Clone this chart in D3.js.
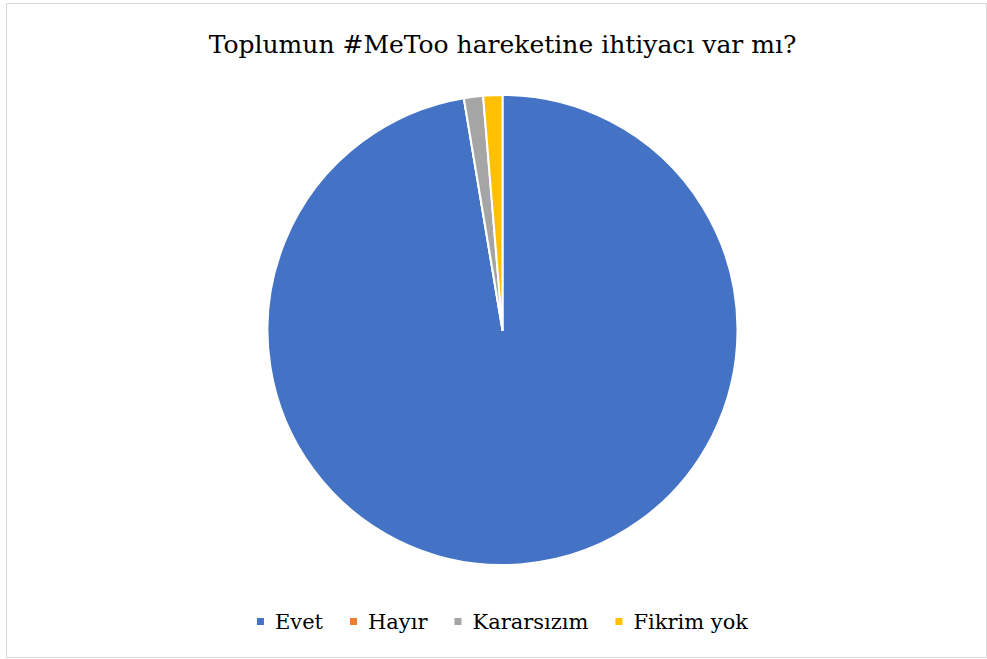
<!DOCTYPE html>
<html>
<head>
<meta charset="utf-8">
<script src="https://cdn.jsdelivr.net/npm/d3@7"></script>
<style>
  body { margin: 0; padding: 0; background: #fff; }
</style>
</head>
<body>
<svg id="chart" width="987" height="659"></svg>
<script>
const title = 'Toplumun #MeToo hareketine ihtiyacı var mı?'
const categories = ['Evet', 'Hayır', 'Kararsızım', 'Fikrim yok']
const values = [74, 0, 1, 1]
const colors = ['#4472C4', '#ED7D31', '#A5A5A5', '#FFC000']

const font = "'DejaVu Serif', serif"
const cx = 502.5
const cy = 330
const radius = 235

const svg = d3.select('#chart')

svg.append('rect')
  .attr('x', 6.5).attr('y', 3.5)
  .attr('width', 980).attr('height', 654)
  .attr('fill', '#fff')
  .attr('stroke', '#d9d9d9')
  .attr('stroke-width', 1)

svg.append('text')
  .attr('x', cx)
  .attr('y', 53)
  .attr('text-anchor', 'middle')
  .attr('font-family', font)
  .attr('font-size', 25)
  .attr('fill', '#000')
  .text(title)

const data = categories.map((c, i) => ({ name: c, value: values[i], color: colors[i] }))

const pie = d3.pie().sort(null).value(d => d.value)
const arc = d3.arc().innerRadius(0).outerRadius(radius)

svg.append('g')
  .attr('transform', `translate(${cx}, ${cy})`)
  .selectAll('path')
  .data(pie(data))
  .enter()
  .append('path')
  .attr('d', arc)
  .attr('fill', d => d.data.color)
  .attr('stroke', '#fff')
  .attr('stroke-width', 2)
  .attr('stroke-linejoin', 'round')

// legend, centered under the pie
const legend = svg.append('g')
const items = legend.selectAll('g.item')
  .data(data)
  .enter()
  .append('g')
  .classed('item', true)

items.append('rect')
  .attr('width', 7).attr('height', 7)
  .attr('y', -11)
  .attr('fill', d => d.color)

items.append('text')
  .attr('x', 18)
  .attr('font-family', font)
  .attr('font-size', 21)
  .attr('fill', '#000')
  .text(d => d.name)

const gap = 27
let offset = 0
items.each(function () {
  const w = d3.select(this).select('text').node().getComputedTextLength()
  d3.select(this).attr('transform', `translate(${offset}, 0)`)
  offset += 18 + w + gap
})
offset -= gap
legend.attr('transform', `translate(${cx - offset / 2}, 629)`)
</script>
</body>
</html>
